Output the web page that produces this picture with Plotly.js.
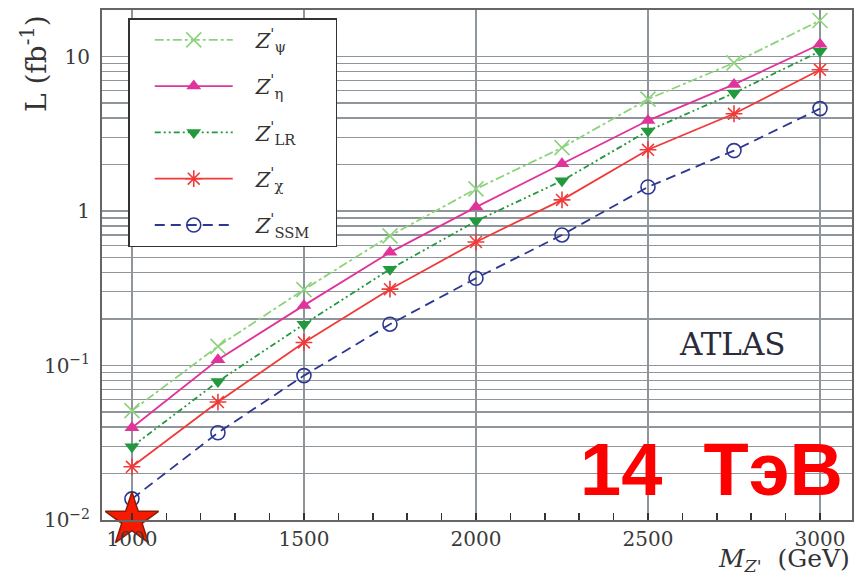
<!DOCTYPE html>
<html>
<head>
<meta charset="utf-8">
<script src="https://cdn.plot.ly/plotly-3.0.1.min.js"></script>
<style>html,body{margin:0;padding:0;background:#fff;}#chart{width:855px;height:576px;}</style>
</head>
<body>
<div id="chart"></div>
<script>
// Data
const massGeV = [1000, 1250, 1500, 1750, 2000, 2250, 2500, 2750, 3000];
const lumiPsi = [0.051, 0.133, 0.31, 0.69, 1.39, 2.57, 5.3, 9.1, 17.1];
const lumiEta = [0.0395, 0.109, 0.245, 0.54, 1.06, 2.02, 3.85, 6.6, 12.0];
const lumiLR  = [0.0298, 0.0787, 0.185, 0.42, 0.86, 1.57, 3.3, 5.8, 10.8];
const lumiChi = [0.0221, 0.058, 0.141, 0.312, 0.63, 1.18, 2.49, 4.26, 8.2];
const lumiSSM = [0.0137, 0.0367, 0.086, 0.185, 0.367, 0.70, 1.43, 2.46, 4.6];
const seriesNames = ["<i>Z</i><sup>'</sup><sub>ψ</sub>", "<i>Z</i><sup>'</sup><sub>η</sub>", "<i>Z</i><sup>'</sup><sub>LR</sub>", "<i>Z</i><sup>'</sup><sub>χ</sub>", "<i>Z</i><sup>'</sup><sub>SSM</sub>"];
const starX = [1000];
const starY = [0.01];
const xTickVals = [1000, 1500, 2000, 2500, 3000];
const xTickText = ["1000", "1500", "2000", "2500", "3000"];
const yTickVals = [0.01, 0.1, 1, 10];
const yTickText = ["10<sup>−2</sup>", "10<sup>−1</sup>", "1", "10"];

const serif = "DejaVu Serif, Liberation Serif, serif";
const gridCol = "#8e959b";

function tr(y, name, color, dash, symbol, msize, open, grp) {
  return {
    x: massGeV, y: y, name: name + '\u00A0\u00A0\u00A0', type: 'scatter', mode: 'lines+markers',
    legendgroup: grp,
    line: {color: color, width: 1.8, dash: dash},
    marker: {symbol: symbol, size: msize, color: color,
             line: {color: color, width: open ? 1.6 : 0}},
    cliponaxis: false
  };
}

const traces = [
  tr(lumiPsi, seriesNames[0], "#8dd27c", "dashdot", "x-thin-open", 15, true, "a"),
  tr(lumiEta, seriesNames[1], "#e0349a", "solid", "triangle-up", 13, false, "b"),
  tr(lumiLR,  seriesNames[2], "#22993c", "6px,3px,2px,3px,2px,3px", "triangle-down", 13, false, "c"),
  tr(lumiChi, seriesNames[3], "#f03a3a", "solid", "asterisk-open", 14, true, "d"),
  tr(lumiSSM, seriesNames[4], "#2d3791", "10px,6px", "circle-open", 14, true, "e"),
  {
    x: starX, y: starY, type: 'scatter', mode: 'markers', showlegend: false,
    marker: {symbol: 'star', size: 40, color: '#f51a00', line: {color: '#8b1c05', width: 1.5}},
    cliponaxis: false, hoverinfo: 'skip'
  }
];

const layout = {
  width: 855, height: 576,
  margin: {l: 102, r: 3, t: 10, b: 56},
  paper_bgcolor: '#fff', plot_bgcolor: '#fff',
  showlegend: true,
  legend: {
    x: 0.035, y: 0.984, xanchor: 'left', yanchor: 'top',
    bgcolor: '#fff', bordercolor: '#333', borderwidth: 1.5,
    font: {family: serif, size: 21, color: '#333'},
    traceorder: 'grouped', tracegroupgap: 16, itemwidth: 116
  },
  xaxis: {
    range: [913, 3093], tickmode: 'array', tickvals: xTickVals, ticktext: xTickText,
    tickfont: {family: serif, size: 20, color: '#3a3a3a'},
    showgrid: true, gridcolor: gridCol, gridwidth: 2,
    ticks: 'inside', ticklen: 7, tickcolor: '#333', tickwidth: 1.5,
    minor: {dtick: 100, ticks: 'inside', ticklen: 7, tickcolor: '#333', tickwidth: 1.5, showgrid: false},
    showline: true, mirror: true, linecolor: '#666', linewidth: 2,
    zeroline: false, ticklabelstandoff: 0
  },
  yaxis: {
    type: 'log', range: [-2, 1.301], tickmode: 'array', tickvals: yTickVals, ticktext: yTickText,
    tickfont: {family: serif, size: 20, color: '#3a3a3a'},
    showgrid: true, gridcolor: gridCol, gridwidth: 1.6,
    ticks: '',
    minor: {dtick: 'D1', showgrid: true, gridcolor: gridCol, gridwidth: 1.4, ticks: ''},
    showline: true, mirror: true, linecolor: '#666', linewidth: 2,
    zeroline: false, ticklabelstandoff: 6
  },
  annotations: [
    {xref: 'paper', yref: 'paper', x: -0.09, y: 0.895, xanchor: 'center', yanchor: 'middle',
     textangle: -90, showarrow: false, text: 'L (fb<sup>-1</sup>)',
     font: {family: serif, size: 28, color: '#333'}},
    {xref: 'paper', yref: 'paper', x: 1.0, y: -0.079, xanchor: 'right', yanchor: 'middle',
     showarrow: false, text: "<i>M</i><sub><i>Z'</i></sub>  (GeV)",
     font: {family: serif, size: 25, color: '#333'}},
    {xref: 'paper', yref: 'paper', x: 0.841, y: 0.345, xanchor: 'center', yanchor: 'middle',
     showarrow: false, text: 'ATLAS',
     font: {family: serif, size: 31, color: '#2b2b3a'}},
    {xref: 'paper', yref: 'paper', x: 0.99, y: 0.1, xanchor: 'right', yanchor: 'middle',
     showarrow: false, text: '14\u00A0\u00A0ТэВ',
     font: {family: 'Liberation Sans, Arial, sans-serif', size: 74, color: '#ff0000', weight: 'bold'}}
  ]
};

Plotly.newPlot('chart', traces, layout, {staticPlot: true, displayModeBar: false}).then(function () {
  // lengthen the legend line samples and centre the markers on them
  document.querySelectorAll('.legend .legendlines path').forEach(function (p) {
    p.setAttribute('d', 'M25,0h78');
  });
  document.querySelectorAll('.legend .legendpoints path').forEach(function (p) {
    p.setAttribute('transform', 'translate(64,0)');
  });
});
</script>
</body>
</html>
